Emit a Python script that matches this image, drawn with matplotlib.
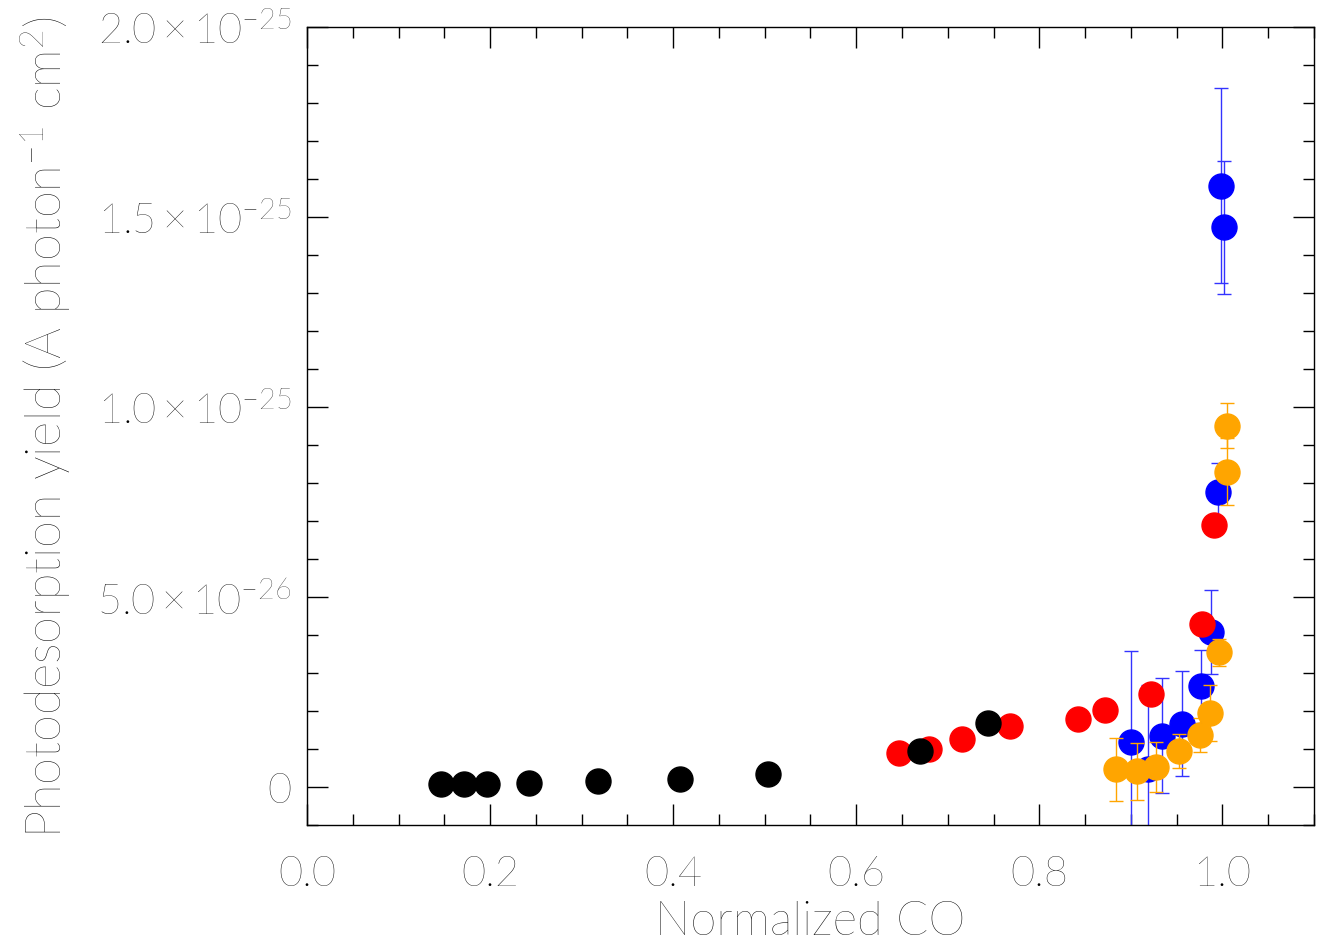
import numpy as np
import matplotlib
matplotlib.use("Agg")
import matplotlib.pyplot as plt
from matplotlib.ticker import MultipleLocator, FixedLocator

plt.rcParams['font.family'] = ['Lato', 'DejaVu Sans']
plt.rcParams['font.weight'] = 'light'
plt.rcParams['axes.labelweight'] = 'light'
plt.rcParams['mathtext.fontset'] = 'custom'
plt.rcParams['mathtext.rm'] = 'Lato:light'
plt.rcParams['mathtext.it'] = 'Lato:light'

# yields in units of 1e-26 A photon^-1 cm^2
black_x = [0.146, 0.171, 0.197, 0.242, 0.318, 0.407, 0.504, 0.670, 0.744]
black_y = [0.08, 0.08, 0.08, 0.10, 0.16, 0.21, 0.34, 0.95, 1.68]

red_x = [0.647, 0.679, 0.716, 0.768, 0.842, 0.872, 0.922, 0.978, 0.991]
red_y = [0.89, 1.00, 1.26, 1.60, 1.79, 2.03, 2.45, 4.29, 6.89]

blue_x = [0.900, 0.919, 0.934, 0.956, 0.977, 0.988, 0.995, 0.999, 1.002]
blue_y = [1.18, 0.47, 1.35, 1.66, 2.65, 4.07, 7.76, 15.82, 14.73]
blue_err = [2.41, 2.22, 1.51, 1.38, 0.96, 1.10, 0.77, 2.57, 1.75]

orange_x = [0.884, 0.907, 0.927, 0.953, 0.975, 0.986, 0.996, 1.005, 1.005]
orange_y = [0.46, 0.41, 0.53, 0.94, 1.37, 1.95, 3.54, 8.30, 9.51]
orange_err = [0.83, 0.75, 0.66, 0.44, 0.44, 0.74, 0.36, 0.87, 0.60]

scale = 1e-26

fig = plt.figure(figsize=(13.24, 9.45), dpi=100)
ax = fig.add_axes([0.2319, 0.126, 0.7605, 0.8444])

ms = 18
ax.errorbar(np.array(blue_x), np.array(blue_y) * scale, yerr=np.array(blue_err) * scale,
            fmt='o', color='#0000ff', ms=ms, ecolor='#3333ff', elinewidth=1.0,
            capsize=4.7, capthick=1.0, zorder=2)
ax.errorbar(np.array(orange_x), np.array(orange_y) * scale, yerr=np.array(orange_err) * scale,
            fmt='o', color='#ffa500', ms=ms, ecolor='#ffa500', elinewidth=1.0,
            capsize=4.7, capthick=1.0, zorder=3)
ax.plot(red_x, np.array(red_y) * scale, 'o', color='#ff0000', ms=ms, zorder=4)
ax.plot(black_x, np.array(black_y) * scale, 'o', color='black', ms=ms, zorder=5)

ax.set_xlim(0.0, 1.1)
ax.set_ylim(-1e-26, 2e-25)
ax.xaxis.set_minor_locator(MultipleLocator(0.05))
ax.yaxis.set_major_locator(FixedLocator([0, 5e-26, 1e-25, 1.5e-25, 2e-25]))
ax.yaxis.set_minor_locator(FixedLocator(np.arange(-1, 21) * 1e-26))
ax.set_xticks([0, 0.2, 0.4, 0.6, 0.8, 1.0])
ax.set_xticklabels(['0.0', '0.2', '0.4', '0.6', '0.8', '1.0'])
ax.set_yticklabels(['0', r'$5.0\times10^{-26}$', r'$1.0\times10^{-25}$',
                    r'$1.5\times10^{-25}$', r'$2.0\times10^{-25}$'])

ax.tick_params(which='both', direction='in', top=True, right=True,
               labelsize=30, colors='black', width=1.0)
ax.tick_params(which='major', length=15)
ax.tick_params(which='minor', length=8)
ax.tick_params(axis='x', which='major', pad=22)
ax.tick_params(axis='y', which='major', pad=11)
for s in ax.spines.values():
    s.set_linewidth(1.0)

ax.set_xlabel('Normalized CO', fontsize=34, labelpad=5, color='black')
ax.set_ylabel(r'Photodesorption yield (A photon$^{-1}$ cm$^{2}$)', fontsize=35,
              labelpad=17, color='black')

fig.savefig('out.png', dpi=100)
